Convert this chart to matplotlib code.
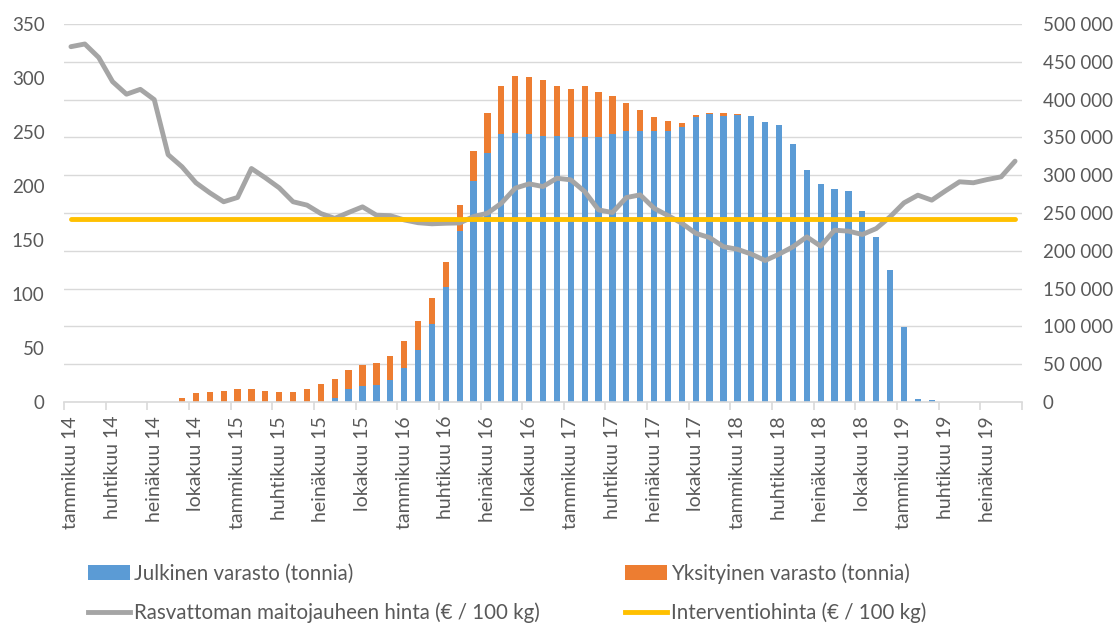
import matplotlib
matplotlib.use("Agg")
import matplotlib.pyplot as plt
from matplotlib.patches import Patch
from matplotlib.lines import Line2D
from matplotlib.ticker import FuncFormatter
import numpy as np

plt.rcParams['font.family'] = ['Lato', 'DejaVu Sans']

month_names = ["tammikuu", "helmikuu", "maaliskuu", "huhtikuu", "toukokuu", "kesäkuu",
               "heinäkuu", "elokuu", "syyskuu", "lokakuu", "marraskuu", "joulukuu"]
years = ["14", "15", "16", "17", "18", "19"]
categories = [f"{m} {y}" for y in years for m in month_names][:69]

# Public intervention stock (tonnes)
public_stock = [0, 0, 0, 0, 0, 0, 0, 0, 0, 0, 0, 0, 0, 0, 0, 0, 0, 0, 0,
                5700, 16900, 21400, 22100, 28900, 45600, 69100, 102900, 152000, 225900, 292400,
                329600, 354000, 355700, 354000, 352100, 352100, 350900, 350900, 350900, 354000,
                358900, 358900, 358900, 358900, 363700, 377400, 380600, 378700, 379600, 377900,
                370700, 365900, 341600, 306300, 288100, 282000, 279000, 252400, 218900, 174300,
                98900, 3600, 2100, 0, 0, 0, 0, 0, 0]

# Private storage (tonnes)
private_stock = [0, 0, 0, 0, 0, 0, 0, 0, 5700, 12000, 13300, 14600, 16900, 16900, 15000,
                 13300, 13300, 16900, 24300, 24300, 26000, 27100, 29300, 32300, 35400, 38000,
                 35300, 32700, 34600, 39900, 52300, 64600, 75300, 75700, 74000, 66400, 63400,
                 67700, 58900, 50300, 36900, 27400, 18100, 12300, 5700, 2600, 1700, 3600, 1000,
                 900, 0, 0, 0, 0, 0, 0, 0, 0, 0, 0, 0, 0, 0, 0, 0, 0, 0, 0, 0]

# Skimmed milk powder price (EUR / 100 kg)
smp_price = [329, 331.5, 319, 296.6, 285, 289.5, 280, 229, 217.8, 203, 193.7, 185.4, 189.4,
             216.2, 207.6, 198.3, 185.4, 182.3, 174.5, 170, 175.5, 180.7, 173, 172.5, 168.6,
             166, 165, 165.5, 165.8, 171.7, 174.8, 184, 198, 202, 199.5, 207.2, 205.7, 194.9,
             177.9, 175.4, 189.3, 191.8, 179.4, 172.6, 165.5, 156.2, 152.2, 143.8, 141.4, 137,
             131, 136.9, 143.7, 152.9, 144.3, 159.1, 158.2, 155.1, 160.6, 171.5, 184.4, 191.5,
             186.9, 195.6, 203.9, 203, 206, 208.5, 223]

intervention_price = 169.8

labels = ["Julkinen varasto (tonnia)", "Yksityinen varasto (tonnia)",
          "Rasvattoman maitojauheen hinta (€ / 100 kg)", "Interventiohinta (€ / 100 kg)"]

c_pub, c_priv, c_price, c_int = "#5B9BD5", "#ED7D31", "#A5A5A5", "#FFC000"
txt = "#595959"
grid_c = "#D9D9D9"

fig = plt.figure(figsize=(11.17, 6.23), dpi=100)
ax = fig.add_axes([64 / 1117, 1 - 402 / 623, (1022 - 64) / 1117, (402 - 24) / 623])
ax2 = ax.twinx()

x = np.arange(len(categories))
ax2.bar(x, public_stock, width=0.45, color=c_pub, zorder=2)
ax2.bar(x, private_stock, bottom=public_stock, width=0.45, color=c_priv, zorder=2)

ax.plot(x, smp_price, color=c_price, lw=3.5, solid_capstyle='round', solid_joinstyle='round', zorder=3)
ax.plot(x, [intervention_price] * len(x), color=c_int, lw=3.5, solid_capstyle='round', zorder=4)

ax.set_zorder(ax2.get_zorder() + 1)
ax.patch.set_visible(False)

ax.set_xlim(-0.5, len(x) - 0.5)
ax.set_ylim(0, 350)
ax2.set_ylim(0, 500000)
ax.set_yticks(np.arange(0, 351, 50))
ax2.set_yticks(np.arange(0, 500001, 50000))
ax2.yaxis.set_major_formatter(FuncFormatter(lambda v, p: f"{int(v):,}".replace(",", "\u00a0")))

ax2.grid(axis='y', color=grid_c, lw=1)
ax2.set_axisbelow(True)

for s in ax.spines.values():
    s.set_visible(False)
for s in ax2.spines.values():
    s.set_visible(False)
ax.spines['bottom'].set_visible(True)
ax.spines['bottom'].set_color(grid_c)
ax.spines['bottom'].set_linewidth(1.2)

ax.set_xticks(x[::3])
ax.set_xticklabels(categories[::3], rotation=90, va='top', ha='center')
ax.set_xticks(np.arange(-0.5, len(x), 3), minor=True)
ax.tick_params(axis='x', which='major', length=0, pad=10, labelsize=14, labelcolor=txt)
ax.tick_params(axis='x', which='minor', length=6, color=grid_c, width=1.2)
ax.tick_params(axis='y', length=0, pad=14, labelsize=13.5, labelcolor=txt)
ax2.tick_params(axis='y', length=0, pad=15, labelsize=13.5, labelcolor=txt)

handles = [Patch(facecolor=c_pub, edgecolor='none'),
           Line2D([], [], color=c_price, lw=3.5),
           Patch(facecolor=c_priv, edgecolor='none'),
           Line2D([], [], color=c_int, lw=3.5)]
leg_labels = [labels[0], labels[2], labels[1], labels[3]]
leg = fig.legend(handles, leg_labels, ncol=2, loc='upper left',
                 bbox_to_anchor=(80 / 1117, 1 - 555 / 623), frameon=False,
                 fontsize=14.8, handlelength=2.05, handleheight=0.7, handletextpad=0.2,
                 columnspacing=4.1, labelspacing=0.9, borderaxespad=0)
for t in leg.get_texts():
    t.set_color(txt)

fig.savefig("out.png", dpi=100)
